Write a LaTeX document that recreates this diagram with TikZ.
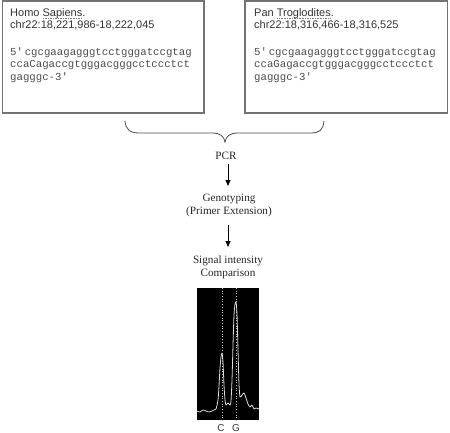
\documentclass[tikz,border=0pt]{standalone}
\usepackage{fontspec}
\setmainfont{Liberation Serif}
\newfontfamily\boxsans{Liberation Sans}
\newfontfamily\boxmono{Liberation Mono}
\usetikzlibrary{arrows.meta}
\newcommand\dotul[1]{\setbox0\hbox{#1}\rlap{\color{gray}\raisebox{-2.4bp}{\hbox to \wd0{\xleaders\hbox to 1.6bp{\hss\rule{0.8bp}{0.6bp}\hss}\hfill}}}\box0}
\tikzset{
  seqbox/.style={draw=black!55, line width=1.4bp},
  hdr/.style={anchor=base west, inner sep=0, text=black!80, font=\boxsans\fontsize{11bp}{12bp}\selectfont},
  seq/.style={anchor=base west, inner sep=0, text=black!70, font=\boxmono\fontsize{10.7bp}{12bp}\selectfont},
  steptext/.style={anchor=base, inner sep=0, text=black!85, font=\fontsize{11.2bp}{13bp}\selectfont},
  arr/.style={-{Triangle[length=6bp,width=5bp]}, line width=0.8bp, black},
  brace/.style={draw=black!70, line width=0.8bp},
}
\begin{document}
\begin{tikzpicture}[x=1bp,y=-1bp]
\useasboundingbox (0,0) rectangle (450,432);
% boxes
\draw[seqbox] (2.5,0.8) rectangle (204,113);
\draw[seqbox] (245,0.8) rectangle (447.5,113);
% left box text
\node[hdr] (h1) at (10,16) {Homo \dotul{Sapiens}.};
\node[hdr] (h2) at (10,28.5) {chr22:18,221,986-18,222,045};
\node[seq] (s1) at (10,55) {5'\,cgcgaagagggtcctgggatccgtag};
\node[seq] (s2) at (10,67.5) {ccaCagaccgtgggacgggcctccctct};
\node[seq] (s3) at (10,80) {gagggc-3'};
% right box text
\node[hdr] (p1) at (254,16) {Pan \dotul{Troglodites}.};
\node[hdr] (p2) at (254,28.5) {chr22:18,316,466-18,316,525};
\node[seq] (t1) at (254,55) {5'\,cgcgaagagggtcctgggatccgtag};
\node[seq] (t2) at (254,67.5) {ccaGagaccgtgggacgggcctccctct};
\node[seq] (t3) at (254,80) {gagggc-3'};
% brace
\coordinate (bl) at (125,121);
\coordinate (br) at (324,121);
\coordinate (bt) at (225,142);
\draw[brace] (bl) .. controls (126,130) and (130,133) .. (140,133)
  -- (212,133) .. controls (220,133) and (224,136) .. (bt)
  .. controls (226,136) and (230,133) .. (238,133)
  -- (310,133) .. controls (320,133) and (323,130) .. (br);
% steps
\node[steptext] (pcr) at (226,159) {PCR};
\node[steptext] (geno) at (229,201.5) {Genotyping};
\node[steptext] (prim) at (229,214.5) {(Primer Extension)};
\node[steptext] (sig) at (228,263.5) {Signal intensity};
\node[steptext] (comp) at (228,276.5) {Comparison};
\coordinate (a1s) at (228,164);
\coordinate (a1e) at (228,186);
\coordinate (a2s) at (228,225);
\coordinate (a2e) at (228,247);
\draw[arr] (a1s) -- (a1e);
\draw[arr] (a2s) -- (a2e);
% signal image
\fill[black] (197,288) rectangle (259,420);
\draw[white!75!black, dotted, line width=0.7bp] (222,288) -- (222,420);
\draw[white!75!black, dotted, line width=0.7bp] (236,288) -- (236,420);
\draw[white!85!black, line width=0.8bp, line join=round] plot[smooth, tension=0.4] coordinates {
(197,411) (200,412) (203,410) (206,411) (209,412) (212,411) (214,410) (216,409)
(218,400) (219,386) (220,368) (221,357) (222,353) (223,362) (224,385) (225,400)
(226,405) (228,403) (230,405) (231,401) (232,380) (233,345) (234,315) (235,304)
(236,302) (237,314) (238,350) (239,384) (240,397) (242,395) (244,393) (246,398)
(248,404) (250,407) (252,405) (254,409) (256,408) (259,409)};
\node[anchor=base, inner sep=0, text=black!80, font=\boxsans\fontsize{10bp}{12bp}\selectfont] (lc) at (221,431) {C};
\node[anchor=base, inner sep=0, text=black!80, font=\boxsans\fontsize{10bp}{12bp}\selectfont] (lg) at (236,431) {G};
\end{tikzpicture}
\end{document}
